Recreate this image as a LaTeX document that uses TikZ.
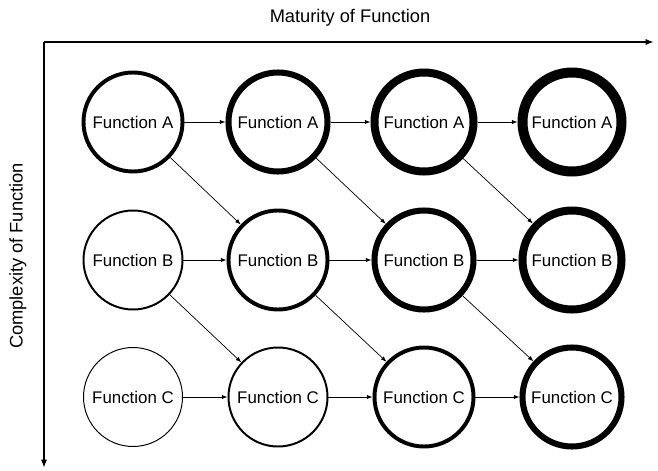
\documentclass[tikz,border=0pt]{standalone}
\usepackage{fontspec}
\setmainfont{Liberation Sans}
\usetikzlibrary{arrows.meta}

\begin{document}
\begin{tikzpicture}[line width=0.5pt,
	func/.style={circle, draw, minimum size=2.475cm, inner sep=0pt, font=\fontsize{12}{14}\selectfont},
	w0/.style={line width=0.7pt},
	w1/.style={line width=1.4pt},
	w2/.style={line width=2.8pt},
	w3/.style={line width=4.3pt},
	w4/.style={line width=5.7pt},
	w5/.style={line width=7.1pt},
	link/.style={-{Latex[length=4pt,width=3pt]}},
	axis/.style={line width=1.3pt, -{Latex[length=6pt,width=4.5pt]}}]
		
		\useasboundingbox (0,0) rectangle (16.45,-11.775);
		
		% axes
		\coordinate (origin) at (1.1,-1.05);
		\coordinate (xend) at (16.35,-1.05);
		\coordinate (yend) at (1.1,-11.7);
		\draw[axis] (origin) -- (xend);
		\draw[axis] (origin) -- (yend);
		
		\node[font=\fontsize{13}{15}\selectfont] (mat) at (8.75,-0.45) {Maturity of Function};
		\node[font=\fontsize{13}{15}\selectfont, rotate=90] (cpx) at (0.45,-6.4) {Complexity of Function};
		
		% row A
		\node[func, w2] (a1) at (3.325,-3.05) {Function A};
		\node[func, w3] (a2) at (6.95,-3.05) {Function A};
		\node[func, w4] (a3) at (10.6,-3.05) {Function A};
		\node[func, w5] (a4) at (14.3,-3.05) {Function A};
		
		% row B
		\node[func, w1] (b1) at (3.325,-6.5) {Function B};
		\node[func, w2] (b2) at (6.95,-6.5) {Function B};
		\node[func, w3] (b3) at (10.6,-6.5) {Function B};
		\node[func, w4] (b4) at (14.3,-6.5) {Function B};
		
		% row C
		\node[func, w0] (c1) at (3.325,-9.925) {Function C};
		\node[func, w1] (c2) at (6.95,-9.925) {Function C};
		\node[func, w2] (c3) at (10.6,-9.925) {Function C};
		\node[func, w3] (c4) at (14.3,-9.925) {Function C};
		
		% maturity steps
		\draw[link] (a1) -- (a2);
		\draw[link] (a2) -- (a3);
		\draw[link] (a3) -- (a4);
		\draw[link] (b1) -- (b2);
		\draw[link] (b2) -- (b3);
		\draw[link] (b3) -- (b4);
		\draw[link] (c1) -- (c2);
		\draw[link] (c2) -- (c3);
		\draw[link] (c3) -- (c4);
		
		% complexity steps
		\draw[link] (a1) -- (b2);
		\draw[link] (a2) -- (b3);
		\draw[link] (a3) -- (b4);
		\draw[link] (b1) -- (c2);
		\draw[link] (b2) -- (c3);
		\draw[link] (b3) -- (c4);
		
	\end{tikzpicture}
\end{document}
